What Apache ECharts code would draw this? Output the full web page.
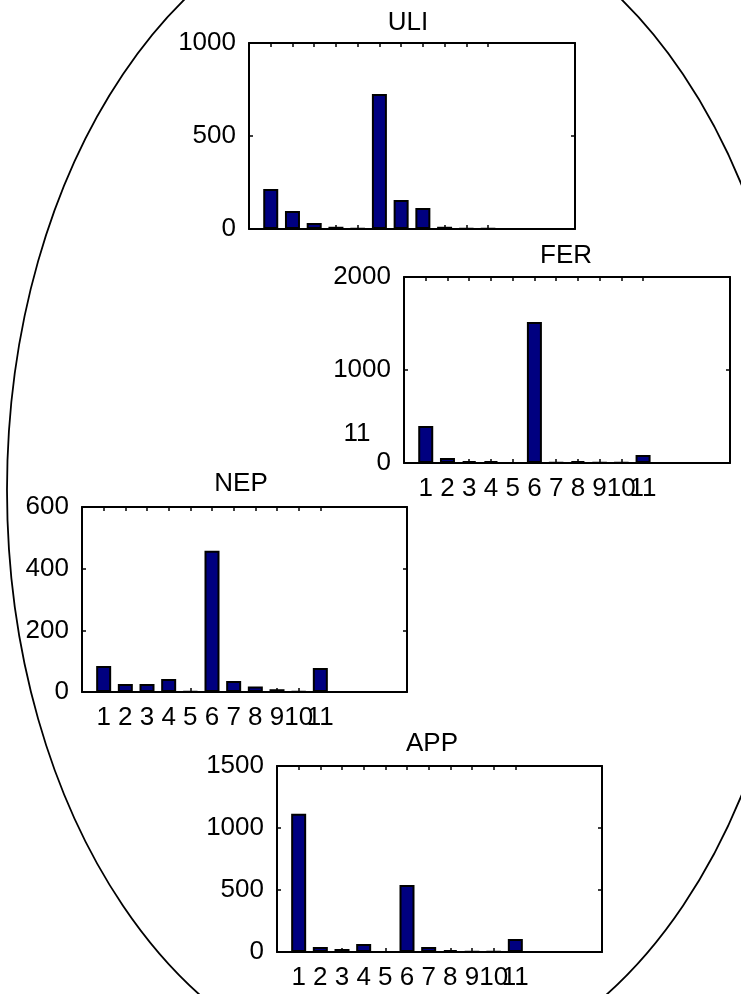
<!DOCTYPE html>
<html><head><meta charset="utf-8">
<script src="https://cdn.jsdelivr.net/npm/echarts@6/dist/echarts.min.js"></script>
<style>html,body{margin:0;padding:0;background:#fff}#c{width:741px;height:994px}</style>
</head><body><div id="c"></div>
<script>
// ---- data ----
const categories = [1, 2, 3, 4, 5, 6, 7, 8, 9, 10, 11];
const tickLabels = ['1', '2', '3', '4', '5', '6', '7', '8', '9', '10', '11'];
const uliValues = [215, 97, 32, 12, 2, 726, 156, 113, 12, 3, 2];
const ferValues = [398, 54, 20, 20, 2, 1516, 5, 20, 5, 5, 86];
const nepValues = [84, 26, 26, 42, 2, 458, 36, 18, 9, 2, 78];
const appValues = [1115, 40, 24, 65, 2, 540, 40, 16, 3, 3, 105];
const panelTitles = ['ULI', 'FER', 'NEP', 'APP'];
const panelMax = [1000, 2000, 600, 1500];
const panelInterval = [500, 1000, 200, 500];
const strayLabel = '11';

// ---- layout ----
const layout = [
  { box: [249, 43, 326, 186], xLabels: false, title: [408, 23] },
  { box: [404, 277, 326, 186], xLabels: true, title: [566, 256] },
  { box: [82, 507, 325, 185], xLabels: true, title: [241, 484] },
  { box: [277, 766, 325, 186], xLabels: true, title: [432, 744] }
];
const seriesValues = [uliValues, ferValues, nepValues, appValues];
const FONT = 'Liberation Sans, Arial, sans-serif';
const FS = 26;

// labels split in two alternating sets so the library doesn't drop touching ones
const oddCats = categories.filter((c, k) => k % 2 === 0);
const evenCats = categories.filter((c, k) => k % 2 === 1);

const grid = [], xAxis = [], yAxis = [], series = [], graphic = [];
layout.forEach((L, i) => {
  grid.push({ left: L.box[0], top: L.box[1], width: L.box[2], height: L.box[3], show: false });
  const lineStyle = { color: '#000', width: 2 };
  const tick = { inside: true, length: 4, lineStyle: { color: '#000', width: 1.5 } };
  const labelBase = {
    hideOverlap: false, interval: 0,
    formatter: v => tickLabels[categories.indexOf(v)],
    color: '#000', fontSize: FS, fontFamily: FONT, margin: 13
  };
  // bottom axis (line, ticks, odd labels)
  xAxis.push({
    type: 'value', gridIndex: i, min: 0, max: 15, position: 'bottom',
    axisLine: { show: true, onZero: false, lineStyle },
    axisTick: Object.assign({ customValues: categories }, tick),
    axisLabel: Object.assign({ show: L.xLabels, customValues: oddCats }, labelBase),
    splitLine: { show: false }
  });
  // bottom axis (even labels only)
  xAxis.push({
    type: 'value', gridIndex: i, min: 0, max: 15, position: 'bottom',
    axisLine: { show: false, onZero: false },
    axisTick: { show: false },
    axisLabel: Object.assign({ show: L.xLabels, customValues: evenCats }, labelBase),
    splitLine: { show: false }
  });
  // top axis
  xAxis.push({
    type: 'value', gridIndex: i, min: 0, max: 15, position: 'top',
    axisLine: { show: true, onZero: false, lineStyle },
    axisTick: Object.assign({ customValues: categories }, tick),
    axisLabel: { show: false },
    splitLine: { show: false }
  });
  ['left', 'right'].forEach(pos => {
    yAxis.push({
      type: 'value', gridIndex: i, min: 0, max: panelMax[i], interval: panelInterval[i], position: pos,
      axisLine: { show: true, onZero: false, lineStyle },
      axisTick: Object.assign({ show: true }, tick),
      axisLabel: { show: pos === 'left', formatter: v => String(v), color: '#000', fontSize: FS, fontFamily: FONT, margin: 13 },
      splitLine: { show: false }
    });
  });
  series.push({
    type: 'bar', name: panelTitles[i], xAxisIndex: 3 * i, yAxisIndex: 2 * i,
    data: categories.map((c, k) => [c, seriesValues[i][k]]),
    barWidth: 15,
    itemStyle: { color: '#000080', borderColor: '#000', borderWidth: 2 },
    z: 1
  });
  graphic.push({
    type: 'text', x: L.title[0], y: L.title[1],
    style: { text: panelTitles[i], fill: '#000', font: FS + 'px ' + FONT, textAlign: 'center', textVerticalAlign: 'middle' }
  });
});

graphic.push({
  type: 'text', x: 357, y: 434,
  style: { text: strayLabel, fill: '#000', font: FS + 'px ' + FONT, textAlign: 'center', textVerticalAlign: 'middle' }
});
graphic.push({
  type: 'ellipse', shape: { cx: 403, cy: 490, rx: 396, ry: 588 },
  style: { fill: 'none', stroke: '#000', lineWidth: 1.8 }, z: -1
});

const chart = echarts.init(document.getElementById('c'), null, { renderer: 'canvas' });
chart.setOption({
  animation: false,
  backgroundColor: '#fff',
  textStyle: { fontFamily: FONT },
  grid, xAxis, yAxis, series, graphic
});
</script>
</body></html>
